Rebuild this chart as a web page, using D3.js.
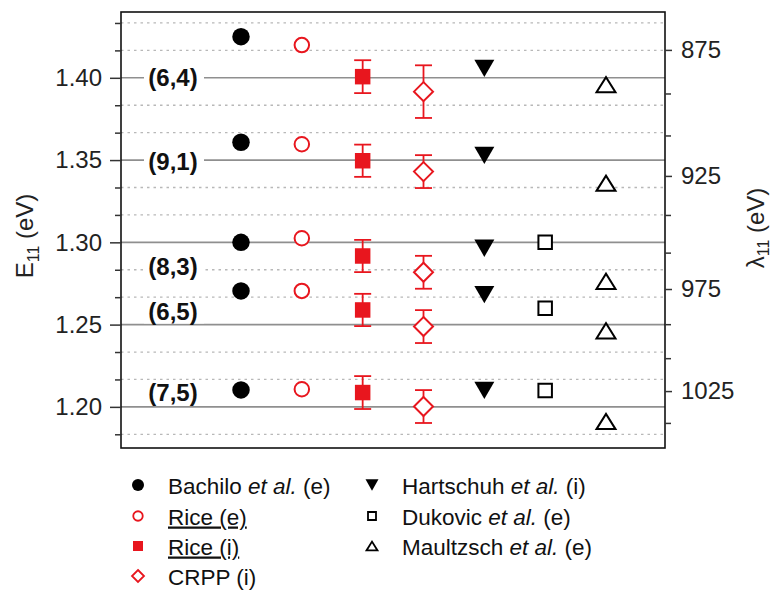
<!DOCTYPE html>
<html><head><meta charset="utf-8">
<script src="https://cdn.jsdelivr.net/npm/d3@7"></script>
<style>body{margin:0;background:#fff}svg{display:block}text{font-family:"Liberation Sans",Arial,sans-serif}</style>
</head><body><svg id="c" width="771" height="591"></svg>
<script>
// ---- data ----
const seriesNames = ["Bachilo et al. (e)", "Rice (e)", "Rice (i)", "CRPP (i)", "Hartschuh et al. (i)", "Dukovic et al. (e)", "Maultzsch et al. (e)"];
const chirality = ["(6,4)", "(9,1)", "(8,3)", "(6,5)", "(7,5)"];
const labelE = [1.4005, 1.3490, 1.2855, 1.2580, 1.2090];
const bachilo = [1.4250, 1.3608, 1.3000, 1.2705, 1.2103];
const riceE = [1.4199, 1.3596, 1.3025, 1.2705, 1.2107];
const riceI = [1.4007, 1.3496, 1.2917, 1.2589, 1.2087];
const riceIErr = [0.0100, 0.0098, 0.0098, 0.0098, 0.0100];
const crpp = [1.3916, 1.3430, 1.2818, 1.2488, 1.2002];
const crppErr = [0.0160, 0.0100, 0.0100, 0.0100, 0.0100];
const hartschuh = [1.4057, 1.3529, 1.2964, 1.2682, 1.2100];
const dukovic = [null, null, 1.3000, 1.2600, 1.2099];
const maultzsch = [1.3958, 1.3359, 1.2763, 1.2462, 1.1911];
const yMajor = [1.20, 1.25, 1.30, 1.35, 1.40];
const lambdaMajor = [875, 925, 975, 1025];
const hc = 1239.84;

const RED = "#e8161e";
const svg = d3.select("#c");
const L = 121, R = 665, T = 12, B = 448;
const y = d3.scaleLinear().domain([1.175, 1.44]).range([B, T]);
const x = d3.scalePoint().domain(seriesNames).range([241, 606]);

// minor ticks at thirds
const yMinor = [];
for (let v = 1.15; v < 1.45; v += 0.05) for (const k of [1, 2]) {
  const m = v + k * 0.05 / 3; if (m > 1.175 && m < 1.44) yMinor.push(m);
}
const lamMinor = [];
for (let l = 825; l <= 1075; l += 50) for (const k of [1, 2]) {
  const m = l + k * 50 / 3; const e = hc / m; if (e > 1.175 && e < 1.44) lamMinor.push(m);
}

// gridlines
const g = svg.append("g");
g.selectAll(".gmin").data(yMinor).join("line")
  .attr("x1", L).attr("x2", R).attr("y1", d => y(d)).attr("y2", d => y(d))
  .attr("stroke", "#b8b8b8").attr("stroke-width", 1.3).attr("stroke-dasharray", "2.5,4");
g.selectAll(".gmaj").data(yMajor).join("line")
  .attr("x1", L).attr("x2", R).attr("y1", d => y(d)).attr("y2", d => y(d))
  .attr("stroke", "#8f8f8f").attr("stroke-width", 1.6);

// chirality labels with white background
const lab = svg.append("g");
chirality.forEach((c, i) => {
  lab.append("rect").attr("x", 144).attr("y", y(labelE[i]) - 12).attr("width", 60).attr("height", 24).attr("fill", "#fff");
  lab.append("text").attr("x", 173).attr("y", y(labelE[i])).attr("dy", "0.36em")
    .attr("text-anchor", "middle").attr("font-size", 24).attr("font-weight", "bold").attr("fill", "#111").text(c);
});

// symbol path helpers (centered on bounding box)
function path(type, s) {
  const h = s / 2;
  switch (type) {
    case "circle": return d3.symbol(d3.symbolCircle, Math.PI * h * h)();
    case "square": return `M${-h},${-h}H${h}V${h}H${-h}Z`;
    case "diamond": return `M0,${-h}L${h},0L0,${h}L${-h},0Z`;
    case "tridown": { const th = s * 0.866 / 2; return `M${-h},${-th}L${h},${-th}L0,${th}Z`; }
    case "triup": { const th = s * 0.8 / 2; return `M${-h},${th}L${h},${th}L0,${-th}Z`; }
  }
}
const styles = [
  { vals: bachilo, type: "circle", size: 17.5, fill: "#000", stroke: "none", lsize: 12 },
  { vals: riceE, type: "circle", size: 14.5, fill: "none", stroke: RED, lsize: 9.5 },
  { vals: riceI, err: riceIErr, type: "square", size: 15.5, fill: RED, stroke: "none", lsize: 10 },
  { vals: crpp, err: crppErr, type: "diamond", size: 19, fill: "none", stroke: RED, lsize: 12 },
  { vals: hartschuh, type: "tridown", size: 20, fill: "#000", stroke: "none", lsize: 13 },
  { vals: dukovic, type: "square", size: 13.5, fill: "none", stroke: "#000", lsize: 8 },
  { vals: maultzsch, type: "triup", size: 19, fill: "none", stroke: "#000", lsize: 11 }
];

const marks = svg.append("g");
styles.forEach((st, si) => {
  const cx = x(seriesNames[si]);
  const pts = st.vals.map((v, i) => ({ v, e: st.err ? st.err[i] : null })).filter(d => d.v != null);
  if (st.err) {
    const eg = marks.append("g").attr("stroke", RED).attr("stroke-width", 1.8).attr("fill", "none");
    pts.forEach(d => {
      eg.append("line").attr("x1", cx).attr("x2", cx).attr("y1", y(d.v - d.e)).attr("y2", y(d.v + d.e));
      eg.append("line").attr("x1", cx - 8.5).attr("x2", cx + 8.5).attr("y1", y(d.v - d.e)).attr("y2", y(d.v - d.e));
      eg.append("line").attr("x1", cx - 8.5).attr("x2", cx + 8.5).attr("y1", y(d.v + d.e)).attr("y2", y(d.v + d.e));
    });
  }
  marks.selectAll(null).data(pts).join("path")
    .attr("transform", d => `translate(${cx},${y(d.v)})`)
    .attr("d", path(st.type, st.size))
    .attr("fill", st.fill === "none" ? "#fff" : st.fill)
    .attr("stroke", st.stroke).attr("stroke-width", 2);
});

// frame
svg.append("rect").attr("x", L).attr("y", T).attr("width", R - L).attr("height", B - T)
  .attr("fill", "none").attr("stroke", "#111").attr("stroke-width", 1.6);

// left axis
const axL = svg.append("g").attr("transform", `translate(${L},0)`)
  .call(d3.axisLeft(y).tickValues(yMajor).tickSize(11).tickPadding(8).tickFormat(d3.format(".2f")));
const axLm = svg.append("g").attr("transform", `translate(${L},0)`)
  .call(d3.axisLeft(y).tickValues(yMinor).tickSize(6).tickFormat(""));
// right axis (wavelength, nonlinear via E = hc/lambda)
const axR = svg.append("g").attr("transform", `translate(${R},0)`)
  .call(d3.axisRight(y).tickValues(lambdaMajor.map(l => hc / l)).tickSize(7).tickPadding(9)
    .tickFormat(e => Math.round(hc / e)));
const axRm = svg.append("g").attr("transform", `translate(${R},0)`)
  .call(d3.axisRight(y).tickValues(lamMinor.map(l => hc / l)).tickSize(6).tickFormat(""));
[axL, axLm, axR, axRm].forEach(a => {
  a.select(".domain").remove();
  a.selectAll("line").attr("stroke", "#333").attr("stroke-width", 1.5);
  a.selectAll("text").attr("font-size", 24).attr("fill", "#222")
    .attr("font-family", "'Liberation Sans',Arial,sans-serif");
});

// axis titles
const tl = svg.append("text").attr("transform", "translate(33,236) rotate(-90)")
  .attr("text-anchor", "middle").attr("font-size", 24).attr("fill", "#222");
tl.append("tspan").text("E");
tl.append("tspan").attr("font-size", 16).attr("dy", 6).text("11");
tl.append("tspan").attr("dy", -6).text(" (eV)");
const tr = svg.append("text").attr("transform", "translate(764,228) rotate(-90)")
  .attr("text-anchor", "middle").attr("font-size", 24).attr("fill", "#222");
tr.append("tspan").text("λ");
tr.append("tspan").attr("font-size", 16).attr("dy", 5).text("11");
tr.append("tspan").attr("dy", -5).text(" (eV)");

// legend
const legendCols = [
  { sx: 138, tx: 168 }, { sx: 372, tx: 402 }
];
const legendRowY = [485, 516, 546, 576];
const legendPlace = [[0, 0], [0, 1], [0, 2], [0, 3], [1, 0], [1, 1], [1, 2]];
const leg = svg.append("g");
styles.forEach((st, si) => {
  const [c, r] = legendPlace[si];
  const cy = legendRowY[r];
  leg.append("path").attr("transform", `translate(${legendCols[c].sx},${cy})`)
    .attr("d", path(st.type, st.lsize))
    .attr("fill", st.fill === "none" ? "#fff" : st.fill)
    .attr("stroke", st.stroke).attr("stroke-width", 1.8);
  const t = leg.append("text").attr("x", legendCols[c].tx).attr("y", cy + 8.5)
    .attr("font-size", 22.5).attr("fill", "#111");
  const name = seriesNames[si];
  if (name.includes("et al.")) {
    const [a, b] = name.split("et al.");
    t.append("tspan").text(a);
    t.append("tspan").attr("font-style", "italic").text("et al.");
    t.append("tspan").text(b);
  } else {
    t.text(name);
    if (name.startsWith("Rice")) t.attr("text-decoration", "underline");
  }
});
</script></body></html>
